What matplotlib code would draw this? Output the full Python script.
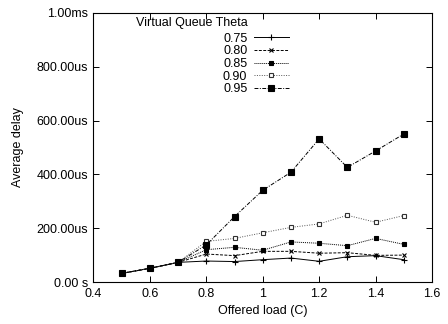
import matplotlib
matplotlib.use("Agg")
import matplotlib.pyplot as plt
from matplotlib.ticker import FuncFormatter

plt.rcParams['font.family'] = ['Liberation Sans', 'DejaVu Sans']
plt.rcParams['font.size'] = 9

# Offered load and average delay (us) per virtual queue theta
load = [0.5, 0.6, 0.7, 0.8, 0.9, 1.0, 1.1, 1.2, 1.3, 1.4, 1.5]
theta_labels = ["0.75", "0.80", "0.85", "0.90", "0.95"]
delay_075 = [32, 51, 73, 78, 76, 83, 89, 77, 94, 98, 83]
delay_080 = [32, 51, 73, 104, 98, 114, 114, 107, 109, 99, 100]
delay_085 = [32, 51, 73, 120, 129, 118, 149, 144, 135, 162, 140]
delay_090 = [32, 51, 73, 151, 162, 183, 203, 216, 248, 222, 247]
delay_095 = [32, 51, 73, 138, 243, 341, 408, 532, 426, 487, 550]

series = [delay_075, delay_080, delay_085, delay_090, delay_095]
styles = [
    dict(color='black', linestyle='-', marker='+', markersize=4),
    dict(color='black', linestyle=(0, (3, 1.5)), marker='x', markersize=3.5),
    dict(color='black', linestyle=(0, (1, 1)), marker='s', markersize=3),
    dict(color='#555555', linestyle=(0, (1, 1.5)), marker='s', markersize=3.5,
         markerfacecolor='white', markeredgecolor='#333333'),
    dict(color='black', linestyle=(0, (4, 1.5, 1, 1.5)), marker='s', markersize=4),
]

fig = plt.figure(figsize=(4.48, 3.24), dpi=100)
ax = fig.add_axes([0.2087, 0.1296, 0.7555, 0.8304])

handles = []
for vals, lab, st in zip(series, theta_labels, styles):
    line, = ax.plot(load, [v * 1e-6 for v in vals], linewidth=0.7,
                    markeredgewidth=0.8, label=lab, **st)
    handles.append(line)


def fmt(v, pos):
    if v <= 0:
        return "0.00 s"
    if v >= 1e-3 - 1e-12:
        return "%.2fms" % (v * 1e3)
    return "%.2fus" % (v * 1e6)


ax.set_xlim(0.4, 1.6)
ax.set_ylim(0, 1e-3)
ax.set_xticks([0.4, 0.6, 0.8, 1.0, 1.2, 1.4, 1.6])
ax.set_xticklabels(["0.4", "0.6", "0.8", "1", "1.2", "1.4", "1.6"])
ax.set_yticks([0, 2e-4, 4e-4, 6e-4, 8e-4, 1e-3])
ax.yaxis.set_major_formatter(FuncFormatter(fmt))
ax.tick_params(direction='in', top=True, right=True, length=4, width=0.7,
               labelsize=9, pad=4)
for s in ax.spines.values():
    s.set_linewidth(0.8)

ax.set_xlabel("Offered load (C)", fontsize=9, labelpad=4)
ax.set_ylabel("Average delay", fontsize=9)
ax.yaxis.set_label_coords(-0.205, 0.5)

leg = ax.legend(handles=handles, loc='upper left', bbox_to_anchor=(0.364, 0.95),
                markerfirst=False, frameon=False, fontsize=9, handlelength=2.8,
                handletextpad=0.5, labelspacing=0.05, borderpad=0)
ax.text(0.456, 0.94, "Virtual Queue Theta", transform=ax.transAxes,
        ha='right', va='bottom', fontsize=9)

fig.savefig("out.png", dpi=100)
